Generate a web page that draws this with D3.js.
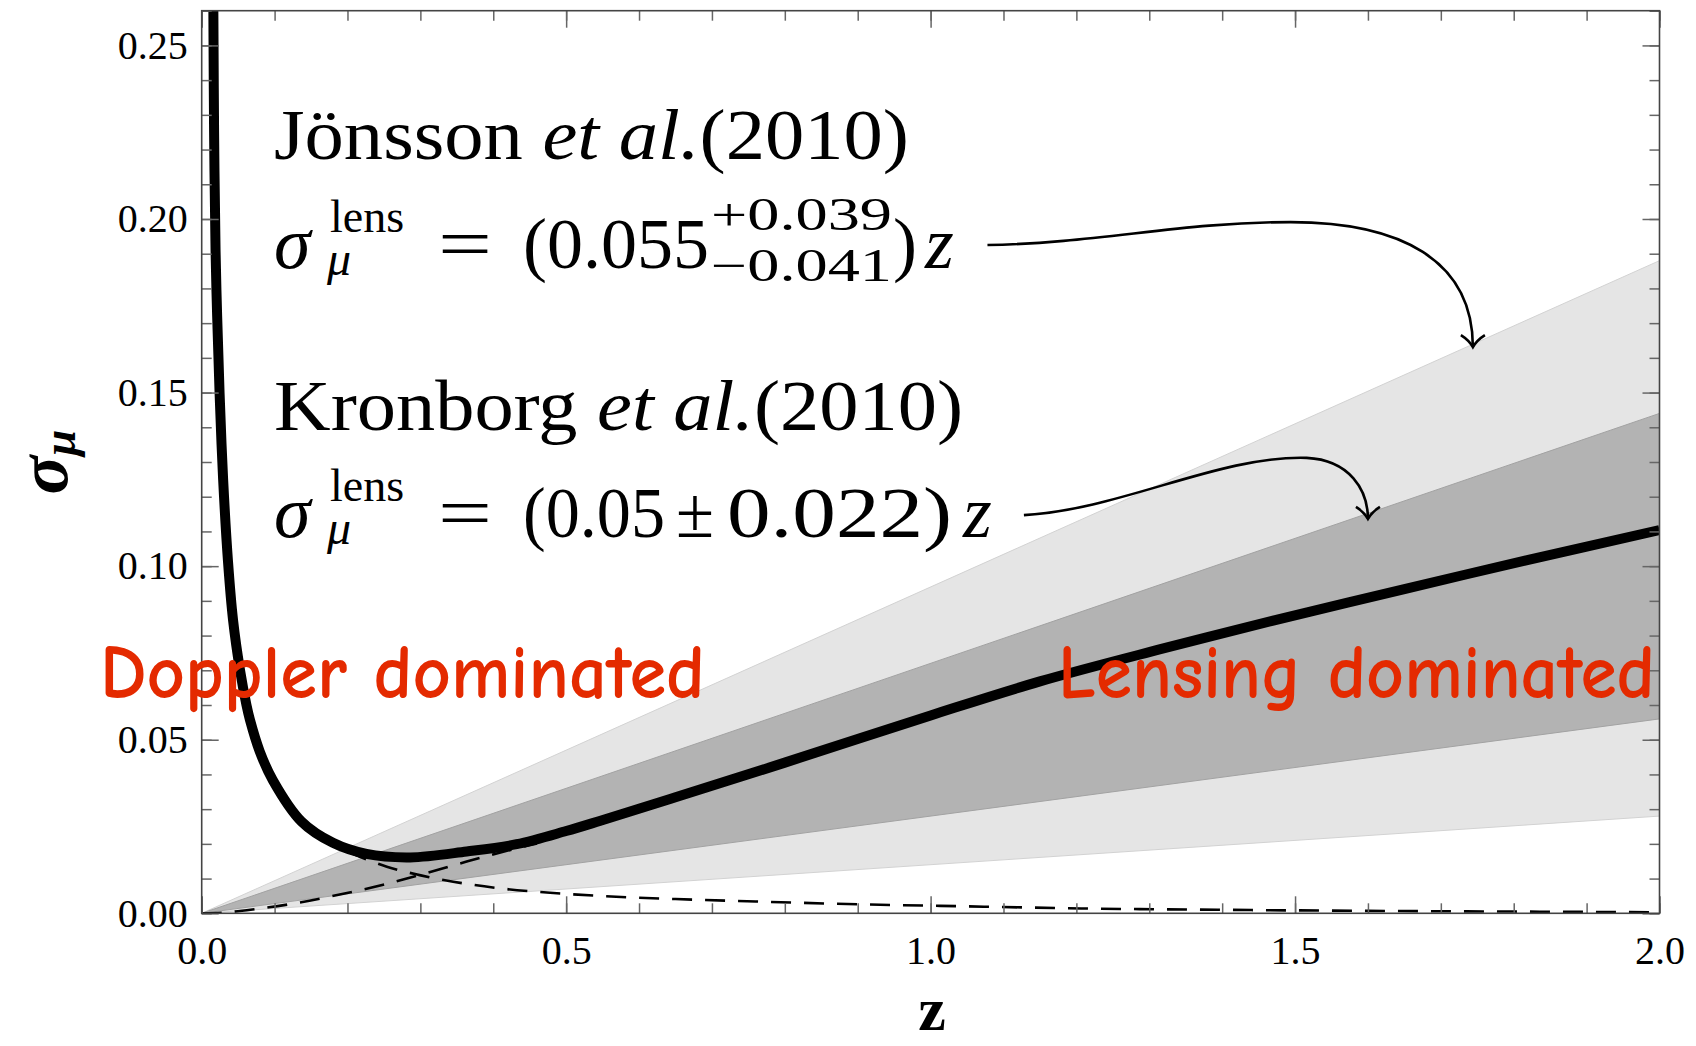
<!DOCTYPE html>
<html><head><meta charset="utf-8">
<script src="https://cdn.jsdelivr.net/npm/d3@7"></script>
<style>body{margin:0;background:#fff} svg{display:block}</style>
</head><body>
<svg id="c" width="1696" height="1046"></svg>
<script>
// ---------- data ----------
const xDomain = [0, 2];
const yDomain = [0, 0.26];
const xTickValues = [0, 0.5, 1.0, 1.5, 2.0];
const xTickLabels = ["0.0", "0.5", "1.0", "1.5", "2.0"];
const yTickValues = [0, 0.05, 0.10, 0.15, 0.20, 0.25];
const yTickLabels = ["0.00", "0.05", "0.10", "0.15", "0.20", "0.25"];

// total sigma_mu (thick curve)
const totalZ     = [0.0150, 0.0160, 0.0170, 0.0190, 0.0212, 0.0245, 0.0294, 0.0362, 0.0430, 0.0526, 0.0614, 0.0662, 0.0795, 0.0974, 0.1370, 0.1800, 0.2260, 0.2860, 0.3635, 0.4320, 0.5000, 0.5460, 0.6500, 0.8000, 1.0000, 1.1500, 1.3140, 1.4700, 1.6500, 1.8200, 2.0000];
const totalSigma = [0.2800, 0.2600, 0.2250, 0.1910, 0.1720, 0.1500, 0.1250, 0.1010, 0.0845, 0.0700, 0.0600, 0.0557, 0.0467, 0.0384, 0.0264, 0.0203, 0.0171, 0.0161, 0.0178, 0.0199, 0.0237, 0.0266, 0.0334, 0.0434, 0.0570, 0.0668, 0.0760, 0.0843, 0.0934, 0.1018, 0.1104];

// lensing contribution (dashed, rising)
const lensZ     = [0, 0.030, 0.077, 0.126, 0.178, 0.249, 0.299, 0.3635, 0.432, 0.460];
const lensSigma = [0, 0.0002, 0.0013, 0.0028, 0.0049, 0.0082, 0.0110, 0.0149, 0.0187, 0.0201];

// Doppler contribution (dashed, falling)
const dopZ     = [0.200, 0.217, 0.254, 0.299, 0.345, 0.409, 0.478, 0.547, 0.650, 0.760, 0.900, 1.050, 1.207, 1.400, 1.600, 1.800, 2.000];
const dopSigma = [0.0178, 0.0163, 0.0134, 0.0110, 0.0091, 0.0072, 0.0059, 0.0050, 0.0041, 0.0034, 0.0026, 0.0020, 0.0014, 0.0010, 0.0007, 0.0005, 0.0003];

// bands (edges are straight lines through these end points)
const bandZ          = [0, 2];
const jonssonUpper   = [0, 0.188];
const jonssonLower   = [0, 0.028];
const kronborgUpper  = [0, 0.144];
const kronborgLower  = [0, 0.056];

// annotation arrows (data coordinates: [z, sigma])
const arrow1 = [[1.078,0.1925],[1.232,0.1931],[1.342,0.1991],[1.494,0.1991],[1.644,0.1991],[1.744,0.1882],[1.744,0.1631]];
const arrow2 = [[1.128,0.1147],[1.260,0.1162],[1.397,0.1320],[1.516,0.1312],[1.575,0.1306],[1.600,0.1219],[1.600,0.1136]];

// ---------- layout ----------
const svg = d3.select("#c");
const L = 201.7, R = 1659.5, T = 10.7, B = 913.3;
const x = d3.scaleLinear().domain(xDomain).range([L, R]);
const y = d3.scaleLinear().domain(yDomain).range([B, T]);
const serif = "'Liberation Serif', 'Times New Roman', serif";

svg.append("defs").append("clipPath").attr("id","clip")
  .append("rect").attr("x",L).attr("y",T).attr("width",R-L).attr("height",B-T);
const plot = svg.append("g").attr("clip-path","url(#clip)");

// bands
function band(up, lo, fill, edge){
  const pts = bandZ.map((z,i)=>({z, u:up[i], l:lo[i]}));
  plot.append("path").datum(pts)
    .attr("d", d3.area().x(d=>x(d.z)).y0(d=>y(d.l)).y1(d=>y(d.u)))
    .attr("fill", fill);
  [up, lo].forEach(arr=>{
    plot.append("path").datum(bandZ.map((z,i)=>[z,arr[i]]))
      .attr("d", d3.line().x(d=>x(d[0])).y(d=>y(d[1])))
      .attr("fill","none").attr("stroke",edge).attr("stroke-width",1);
  });
}
band(jonssonUpper, jonssonLower, "#e5e5e5", "#d2d2d2");
band(kronborgUpper, kronborgLower, "#b3b3b3", "#a2a2a2");

// dashed components
const lineZ = (zs, ss, curve) => d3.line().curve(curve).x((d,i)=>x(zs[i])).y((d,i)=>y(ss[i]))(zs);
plot.append("path").attr("d", lineZ(lensZ, lensSigma, d3.curveMonotoneX))
  .attr("fill","none").attr("stroke","#000").attr("stroke-width",2.6).attr("stroke-dasharray","20,13");
plot.append("path").attr("d", lineZ(dopZ, dopSigma, d3.curveMonotoneX))
  .attr("fill","none").attr("stroke","#000").attr("stroke-width",2.6).attr("stroke-dasharray","20,13");

// total
plot.append("path").attr("d", lineZ(totalZ, totalSigma, d3.curveCatmullRom.alpha(0.5)))
  .attr("fill","none").attr("stroke","#000").attr("stroke-width",10).attr("stroke-linejoin","round");

// ---------- axes ----------
function styleAxis(g){
  g.select(".domain").remove();
  g.selectAll(".tick line").attr("stroke","#666").attr("stroke-width",1.5);
  g.selectAll("text").attr("font-family", serif).attr("font-size", 40).attr("fill","#000");
}
const xMinor = d3.range(0, 21).map(i=>i/10);
const yMinor = d3.range(0, 27).map(i=>i/100);
svg.append("g").attr("transform",`translate(0,${B})`)
  .call(d3.axisBottom(x).tickValues(xMinor).tickSize(-10).tickFormat("")).call(styleAxis);
svg.append("g").attr("transform",`translate(0,${B})`)
  .call(d3.axisBottom(x).tickValues(xTickValues).tickSize(-17).tickPadding(22).tickFormat((d,i)=>xTickLabels[i])).call(styleAxis);
svg.append("g").attr("transform",`translate(0,${T})`)
  .call(d3.axisTop(x).tickValues(xMinor).tickSize(-10).tickFormat("")).call(styleAxis);
svg.append("g").attr("transform",`translate(0,${T})`)
  .call(d3.axisTop(x).tickValues(xTickValues).tickSize(-17).tickFormat("")).call(styleAxis);
svg.append("g").attr("transform",`translate(${L},0)`)
  .call(d3.axisLeft(y).tickValues(yMinor).tickSize(-10).tickFormat("")).call(styleAxis);
svg.append("g").attr("transform",`translate(${L},0)`)
  .call(d3.axisLeft(y).tickValues(yTickValues).tickSize(-17).tickPadding(14).tickFormat((d,i)=>yTickLabels[i])).call(styleAxis);
svg.append("g").attr("transform",`translate(${R},0)`)
  .call(d3.axisRight(y).tickValues(yMinor).tickSize(-10).tickFormat("")).call(styleAxis);
svg.append("g").attr("transform",`translate(${R},0)`)
  .call(d3.axisRight(y).tickValues(yTickValues).tickSize(-17).tickFormat("")).call(styleAxis);

svg.append("rect").attr("x",L).attr("y",T).attr("width",R-L).attr("height",B-T)
  .attr("fill","none").attr("stroke","#444").attr("stroke-width",1.6);

// axis titles
svg.append("text").attr("x",932).attr("y",1030).attr("text-anchor","middle")
  .attr("font-family",serif).attr("font-weight","bold").attr("font-size",62).text("z");
const yl = svg.append("text").attr("transform","translate(67,462) rotate(-90)")
  .attr("text-anchor","middle").attr("font-family",serif).attr("font-weight","bold").attr("font-style","italic");
yl.append("tspan").attr("font-size",72).text("σ");
yl.append("tspan").attr("font-size",47).attr("dy",8).text("μ");

// ---------- annotations ----------
function txt(s, px, py, size, opts={}){
  const t = svg.append("text").attr("x",px).attr("y",py).attr("font-family",serif)
    .attr("font-size",size).attr("fill","#000");
  if(opts.italic) t.attr("font-style","italic");
  if(opts.len){ t.attr("textLength",opts.len).attr("lengthAdjust","spacingAndGlyphs"); }
  t.text(s);
  return t;
}
// sigma_mu^lens as one text element
function sigmaLens(py){
  const t = svg.append("text").attr("x",274).attr("y",py).attr("font-family",serif).attr("fill","#000");
  t.append("tspan").attr("font-size",74).attr("font-style","italic").text("σ");
  t.append("tspan").attr("x",330).attr("y",py-36).attr("font-size",46).text("lens");
  t.append("tspan").attr("x",327).attr("y",py+7).attr("font-size",48).attr("font-style","italic").text("μ");
}
// line 1
const t1 = svg.append("text").attr("x",274).attr("y",159).attr("font-family",serif).attr("font-size",72)
  .attr("textLength",635).attr("lengthAdjust","spacingAndGlyphs");
t1.append("tspan").text("Jönsson ");
t1.append("tspan").attr("font-style","italic").text("et al.");
t1.append("tspan").text("(2010)");
// line 2
sigmaLens(268);
txt("=", 438, 268, 72, {len:54});
txt("(0.055", 523, 268, 72, {len:186});
txt("+0.039", 711, 230, 46, {len:181});
txt("−0.041", 711, 281, 46, {len:181});
txt(")", 893, 268, 72);
txt("z", 925, 268, 74, {italic:true});
// line 3
const t3 = svg.append("text").attr("x",274).attr("y",430).attr("font-family",serif).attr("font-size",72)
  .attr("textLength",689).attr("lengthAdjust","spacingAndGlyphs");
t3.append("tspan").text("Kronborg ");
t3.append("tspan").attr("font-style","italic").text("et al.");
t3.append("tspan").text("(2010)");
// line 4
sigmaLens(537);
txt("=", 438, 537, 72, {len:54});
txt("(0.05", 523, 537, 72, {len:142});
txt("±", 676, 537, 72, {len:38});
txt("0.022)", 727, 537, 72, {len:225});
txt("z", 963, 537, 74, {italic:true});

// arrows
function arrow(pts){
  const p = d3.path();
  const P = pts.map(d=>[x(d[0]), y(d[1])]);
  p.moveTo(...P[0]);
  p.bezierCurveTo(...P[1], ...P[2], ...P[3]);
  p.bezierCurveTo(...P[4], ...P[5], ...P[6]);
  svg.append("path").attr("d",p.toString()).attr("fill","none").attr("stroke","#000").attr("stroke-width",2.6);
  const tip = P[6];
  const h = d3.path();
  h.moveTo(tip[0]-12, tip[1]-12); h.quadraticCurveTo(tip[0]-4, tip[1]-7, tip[0], tip[1]);
  h.quadraticCurveTo(tip[0]+4, tip[1]-7, tip[0]+12, tip[1]-12);
  svg.append("path").attr("d",h.toString()).attr("fill","none").attr("stroke","#000").attr("stroke-width",2.6);
}
arrow(arrow1);
arrow(arrow2);

// red labels
const red = "#e42a00";
const comic = "'Comic Sans MS','Comic Neue',Lato,sans-serif";
svg.append("text").attr("x",100).attr("y",698).attr("font-family",comic).attr("font-size",76).attr("font-weight",700)
  .attr("fill",red).attr("textLength",605).attr("lengthAdjust","spacingAndGlyphs").text("Doppler dominated");
svg.append("text").attr("x",1058).attr("y",698).attr("font-family",comic).attr("font-size",76).attr("font-weight",700)
  .attr("fill",red).attr("textLength",597).attr("lengthAdjust","spacingAndGlyphs").text("Lensing dominated");
</script>
</body></html>
